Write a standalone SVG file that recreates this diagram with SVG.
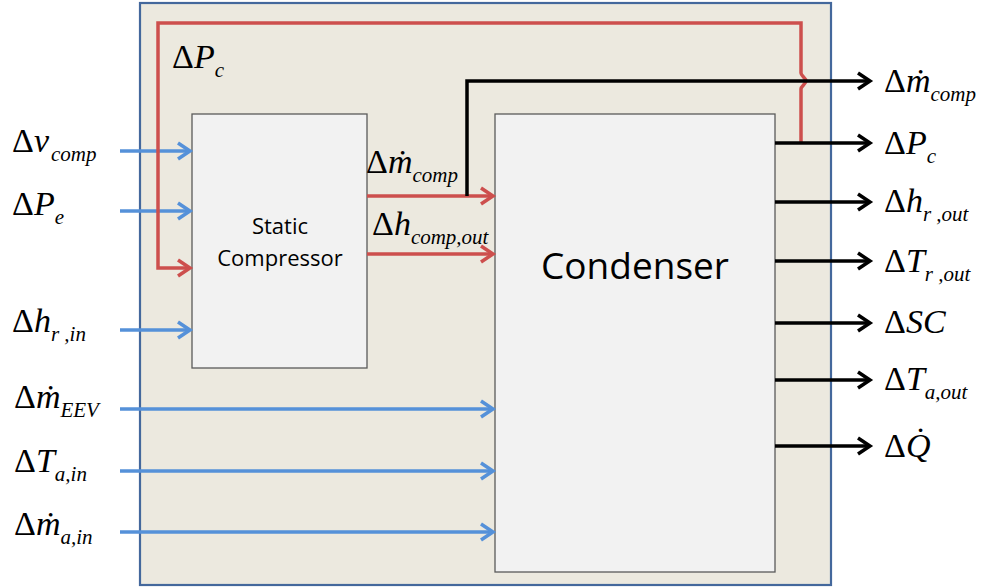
<svg xmlns="http://www.w3.org/2000/svg" width="982" height="588" viewBox="0 0 982 588">
<defs>
<style>
.lbl{font-family:"Liberation Serif","Times New Roman",serif;font-size:34px;fill:#000}
.it{font-style:italic}
.sub{font-style:italic;font-size:21px}
.blue{stroke:#5591D9;stroke-width:3.5;fill:none}
.red{stroke:#CD4F4D;stroke-width:3.5;fill:none}
.blk{stroke:#000;stroke-width:3.5;fill:none}
.box{fill:#F2F2F2;stroke:#5A5A5A;stroke-width:1.3}
.bt{font-family:"Open Sans","Liberation Sans",sans-serif;text-anchor:middle;fill:#000}
</style>
<marker id="mb" markerUnits="userSpaceOnUse" markerWidth="20" markerHeight="20" refX="0" refY="0" orient="auto" overflow="visible">
<path d="M-12,-8 L0,0 L-12,8" fill="none" stroke="#5591D9" stroke-width="3.5"/>
</marker>
<marker id="mr" markerUnits="userSpaceOnUse" markerWidth="20" markerHeight="20" refX="0" refY="0" orient="auto" overflow="visible">
<path d="M-12,-8 L0,0 L-12,8" fill="none" stroke="#CD4F4D" stroke-width="3.5"/>
</marker>
<marker id="mk" markerUnits="userSpaceOnUse" markerWidth="20" markerHeight="20" refX="0" refY="0" orient="auto" overflow="visible">
<path d="M-12,-8 L0,0 L-12,8" fill="none" stroke="#000" stroke-width="3.5"/>
</marker>
</defs>

<g id="system">
<rect x="140" y="3" width="691" height="582" fill="#ECE9DF" stroke="#44689C" stroke-width="2.2"/>
</g>

<g id="compressor">
<rect class="box" x="192" y="114" width="175" height="254"/>
<text class="bt" x="280" y="234" font-size="22">Static</text>
<text class="bt" x="280" y="266" font-size="22">Compressor</text>
</g>

<g id="condenser">
<rect class="box" x="495" y="114" width="280" height="458"/>
<text class="bt" x="635" y="279" font-size="37">Condenser</text>
</g>

<g id="connectors">
<line class="blue" x1="120" y1="151" x2="190" y2="151" marker-end="url(#mb)"/>
<line class="blue" x1="120" y1="211" x2="190" y2="211" marker-end="url(#mb)"/>
<line class="blue" x1="120" y1="330" x2="190" y2="330" marker-end="url(#mb)"/>
<line class="blue" x1="120" y1="409" x2="493" y2="409" marker-end="url(#mb)"/>
<line class="blue" x1="120" y1="471" x2="493" y2="471" marker-end="url(#mb)"/>
<line class="blue" x1="120" y1="532" x2="493" y2="532" marker-end="url(#mb)"/>
<path class="red" d="M801,143 V89 C801,86 806,84 806,81 C806,78 801,76 801,73 V23 H158 V268 H190" marker-end="url(#mr)"/>
<line class="red" x1="367" y1="196" x2="493" y2="196" marker-end="url(#mr)"/>
<line class="red" x1="367" y1="254" x2="493" y2="254" marker-end="url(#mr)"/>
<path class="blk" d="M467,196 V81 H870" marker-end="url(#mk)"/>
<line class="blk" x1="775" y1="143" x2="870" y2="143" marker-end="url(#mk)"/>
<line class="blk" x1="775" y1="202" x2="870" y2="202" marker-end="url(#mk)"/>
<line class="blk" x1="775" y1="261" x2="870" y2="261" marker-end="url(#mk)"/>
<line class="blk" x1="775" y1="323" x2="870" y2="323" marker-end="url(#mk)"/>
<line class="blk" x1="775" y1="380" x2="870" y2="380" marker-end="url(#mk)"/>
<line class="blk" x1="775" y1="446" x2="870" y2="446" marker-end="url(#mk)"/>
</g>

<g id="labels">
<text class="lbl" x="172" y="68">Δ<tspan class="it">P</tspan><tspan class="sub" dy="9">c</tspan></text>
<text class="lbl" x="12" y="152">Δ<tspan class="it">v</tspan><tspan class="sub" dx="2" dy="9">comp</tspan></text>
<text class="lbl" x="12" y="215">Δ<tspan class="it">P</tspan><tspan class="sub" dy="9">e</tspan></text>
<text class="lbl" x="12" y="332">Δ<tspan class="it">h</tspan><tspan class="sub" dy="9">r ,in</tspan></text>
<text class="lbl" x="14" y="408">Δ<tspan class="it">ṁ</tspan><tspan class="sub" dy="9">EEV</tspan></text>
<text class="lbl" x="14" y="472">Δ<tspan class="it">T</tspan><tspan class="sub" dy="9">a,in</tspan></text>
<text class="lbl" x="14" y="535">Δ<tspan class="it">ṁ</tspan><tspan class="sub" dy="9">a,in</tspan></text>
<text class="lbl" x="366" y="173">Δ<tspan class="it">ṁ</tspan><tspan class="sub" dy="9">comp</tspan></text>
<text class="lbl" x="372" y="235">Δ<tspan class="it">h</tspan><tspan class="sub" dy="9">comp,out</tspan></text>
<text class="lbl" x="884" y="92">Δ<tspan class="it">ṁ</tspan><tspan class="sub" dy="9">comp</tspan></text>
<text class="lbl" x="884" y="154">Δ<tspan class="it">P</tspan><tspan class="sub" dy="9">c</tspan></text>
<text class="lbl" x="884" y="212">Δ<tspan class="it">h</tspan><tspan class="sub" dy="9">r ,out</tspan></text>
<text class="lbl" x="884" y="272">Δ<tspan class="it">T</tspan><tspan class="sub" dy="9">r ,out</tspan></text>
<text class="lbl" x="884" y="333">Δ<tspan class="it">SC</tspan></text>
<text class="lbl" x="884" y="390">Δ<tspan class="it">T</tspan><tspan class="sub" dy="9">a,out</tspan></text>
<text class="lbl" x="884" y="457">Δ<tspan class="it">Q̇</tspan></text>
</g>
</svg>
